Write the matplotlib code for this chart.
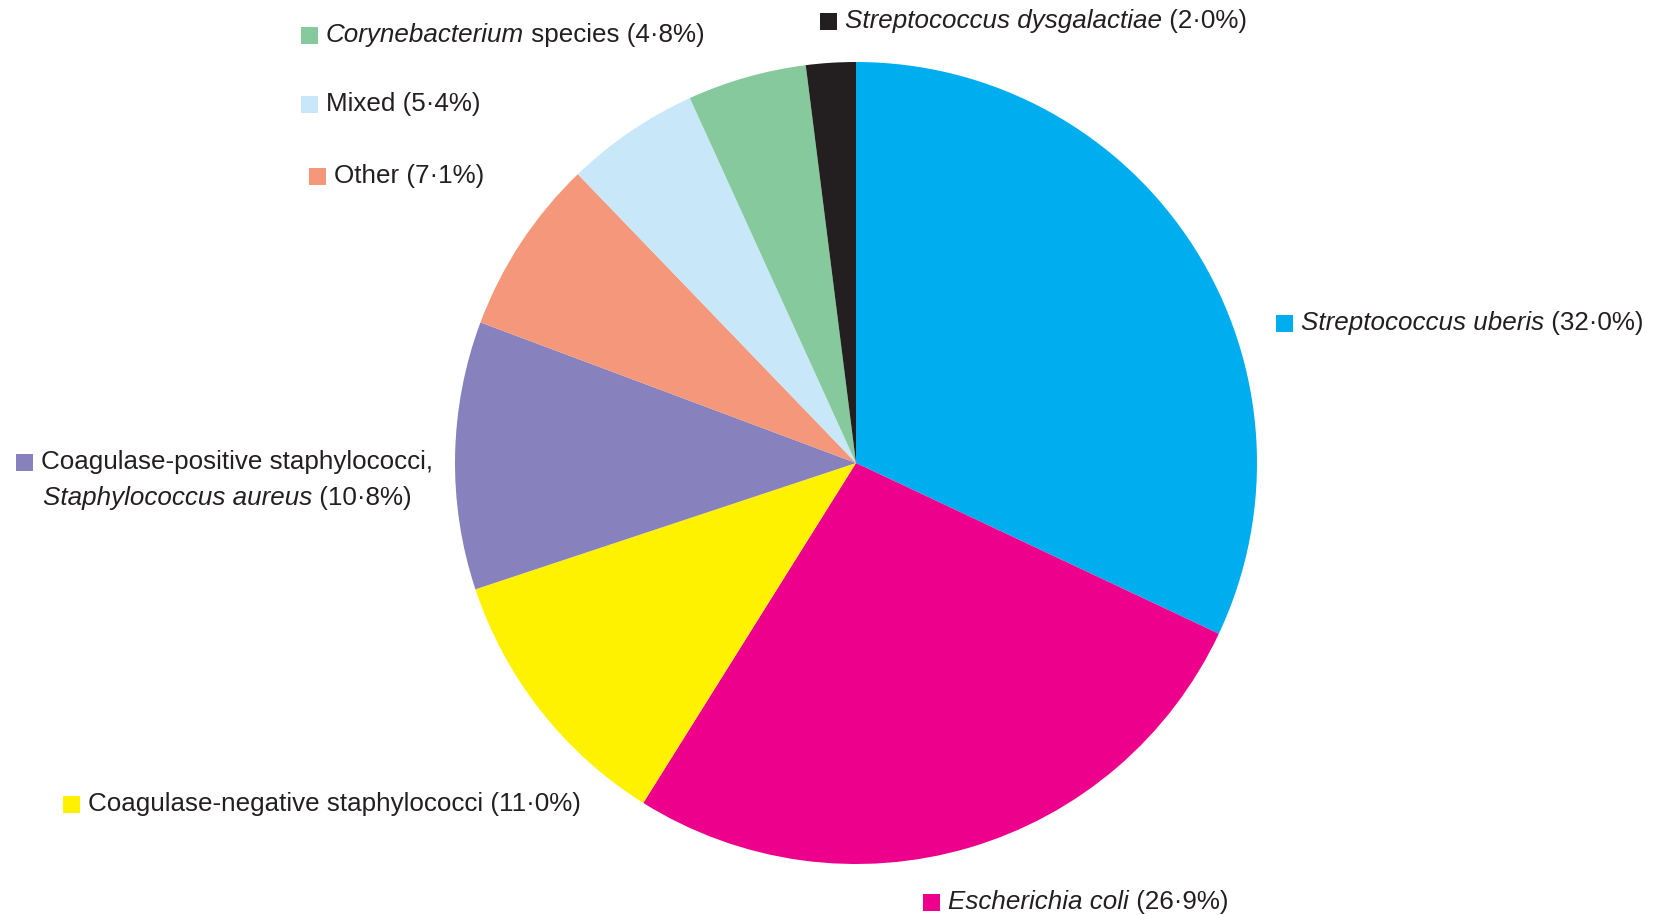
import matplotlib
matplotlib.use("Agg")
import matplotlib.pyplot as plt
from matplotlib.patches import Rectangle

plt.rcParams['font.family'] = ['Liberation Sans', 'DejaVu Sans']

# slices, clockwise from 12 o'clock
names = ["Streptococcus uberis", "Escherichia coli", "Coagulase-negative staphylococci",
         "Coagulase-positive staphylococci, Staphylococcus aureus", "Other", "Mixed",
         "Corynebacterium species", "Streptococcus dysgalactiae"]
values = [32.0, 26.9, 11.0, 10.8, 7.1, 5.4, 4.8, 2.0]
colors = ["#00aeef", "#ec008c", "#fff200", "#8781bd", "#f4977a", "#c8e8fa", "#86c99c", "#231f20"]

# label pieces: (text, italic) per line
label_parts = [
    [[("Streptococcus uberis", True), (" (32·0%)", False)]],
    [[("Escherichia coli", True), (" (26·9%)", False)]],
    [[("Coagulase-negative staphylococci (11·0%)", False)]],
    [[("Coagulase-positive staphylococci,", False)],
     [("Staphylococcus aureus", True), (" (10·8%)", False)]],
    [[("Other (7·1%)", False)]],
    [[("Mixed (5·4%)", False)]],
    [[("Corynebacterium", True), (" species (4·8%)", False)]],
    [[("Streptococcus dysgalactiae", True), (" (2·0%)", False)]],
]
# square marker position (left x, centre y) in pixels from top-left
label_pos = [(1276, 323), (923, 902), (63, 804), (16, 462), (309, 176), (301, 104), (301, 35), (820, 21)]

W, H = 1657, 915
fig = plt.figure(figsize=(W / 100, H / 100), dpi=100)
ax = fig.add_axes([0, 0, 1, 1])
ax.set_xlim(0, W)
ax.set_ylim(0, H)
ax.set_aspect('equal')
ax.axis('off')

ax.pie(values, colors=colors, startangle=90, counterclock=False,
       center=(856, H - 463), radius=401, wedgeprops=dict(linewidth=0))
ax.set_xlim(0, W)
ax.set_ylim(0, H)

fs = 18.7
tc = "#231f20"
sq = 17
line_h = 36
for parts, (px, py), col in zip(label_parts, label_pos, colors):
    ax.add_patch(Rectangle((px, H - py - sq / 2), sq, sq, color=col, lw=0))
    for li, line in enumerate(parts):
        y = H - py - li * line_h
        x = px + sq + 8 if li == 0 else px + 27
        prev = None
        for s, it in line:
            style = 'italic' if it else 'normal'
            if prev is None:
                prev = ax.text(x, y, s, fontsize=fs, color=tc, style=style, va='center', ha='left')
            else:
                prev = ax.annotate(s, xycoords=prev, xy=(1, 0), va='bottom', ha='left',
                                   fontsize=fs, color=tc, style=style)

fig.savefig("out.png", dpi=100)
